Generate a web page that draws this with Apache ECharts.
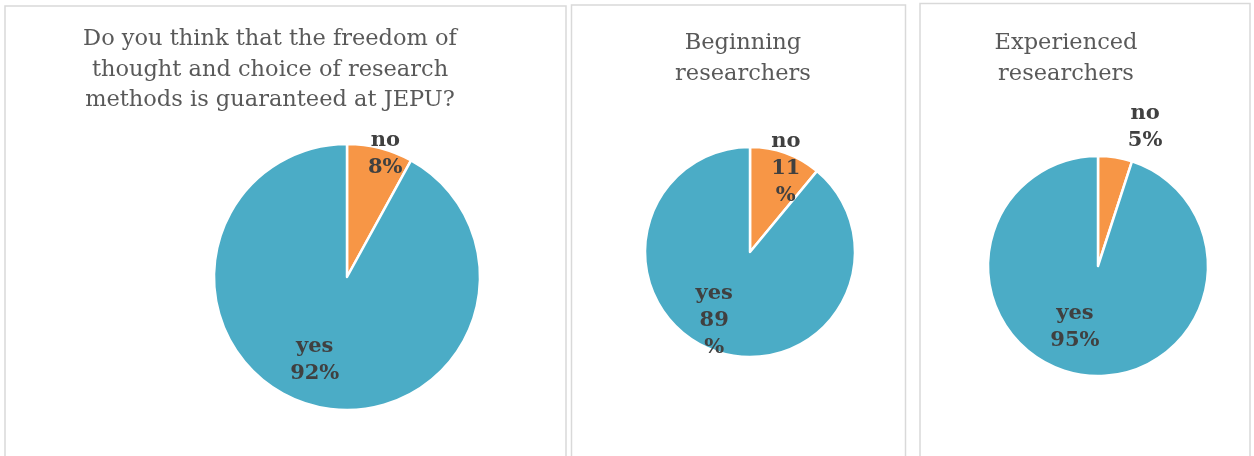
<!DOCTYPE html>
<html><head><meta charset="utf-8">
<script src="https://cdn.jsdelivr.net/npm/echarts@6/dist/echarts.min.js"></script>
<style>html,body{margin:0;padding:0;background:#fff}#c{width:1254px;height:456px}</style>
</head><body><div id="c"></div>
<script>
// ---- data ----
var categories = ['no', 'yes'];
var allValues = [8, 92];
var beginningValues = [11, 89];
var experiencedValues = [5, 95];
var titles = [
  'Do you think that the freedom of\nthought and choice of research\nmethods is guaranteed at JEPU?',
  'Beginning\nresearchers',
  'Experienced\nresearchers'
];

var COLORS = ['#F79646', '#4BACC6'];
var FONT = 'DejaVu Serif';

function makeData(vals, offsets) {
  return categories.map(function (c, i) {
    return { name: c, value: vals[i], itemStyle: { color: COLORS[i] }, label: { offset: offsets[i] } };
  });
}
function pie(center, radius, vals, offsets, splitPct) {
  return {
    type: 'pie', center: center, radius: radius, startAngle: 90, clockwise: true,
    animation: false, silent: true,
    itemStyle: { borderColor: '#fff', borderWidth: 2.5 },
    label: {
      show: true, position: 'inside', fontFamily: FONT, fontWeight: 'bold', fontSize: 21,
      lineHeight: 27, color: '#404040',
      formatter: function (p) { return p.name + '\n' + p.value + (splitPct ? '\n%' : '%'); }
    },
    labelLine: { show: false },
    data: makeData(vals, offsets)
  };
}
var chart = echarts.init(document.getElementById('c'), null, { renderer: 'canvas' });
var tstyle = { fontFamily: FONT, fontSize: 22.5, fontWeight: 'normal', color: '#595959', lineHeight: 30.5 };
chart.setOption({
  backgroundColor: '#fff',
  animation: false,
  graphic: [
    { type: 'rect', shape: { x: 5, y: 6, width: 561, height: 470 }, style: { fill: 'none', stroke: '#d9d9d9', lineWidth: 1.5 } },
    { type: 'rect', shape: { x: 571.5, y: 5, width: 334, height: 470 }, style: { fill: 'none', stroke: '#d9d9d9', lineWidth: 1.5 } },
    { type: 'rect', shape: { x: 920, y: 3.5, width: 330, height: 470 }, style: { fill: 'none', stroke: '#d9d9d9', lineWidth: 1.5 } }
  ],
  title: [
    { text: titles[0], left: 265, top: 19, textAlign: 'center', textStyle: tstyle },
    { text: titles[1], left: 738, top: 23, textAlign: 'center', textStyle: tstyle },
    { text: titles[2], left: 1061, top: 23, textAlign: 'center', textStyle: tstyle }
  ],
  series: [
    pie([347, 277], 133, allValues, [[21, -56], [-15, 16]], false),
    pie([750, 252], 105, beginningValues, [[17, -31], [-17, 16]], true),
    pie([1098, 266], 110, experiencedValues, [[38, -82], [-14, 4]], false)
  ]
});
</script></body></html>
